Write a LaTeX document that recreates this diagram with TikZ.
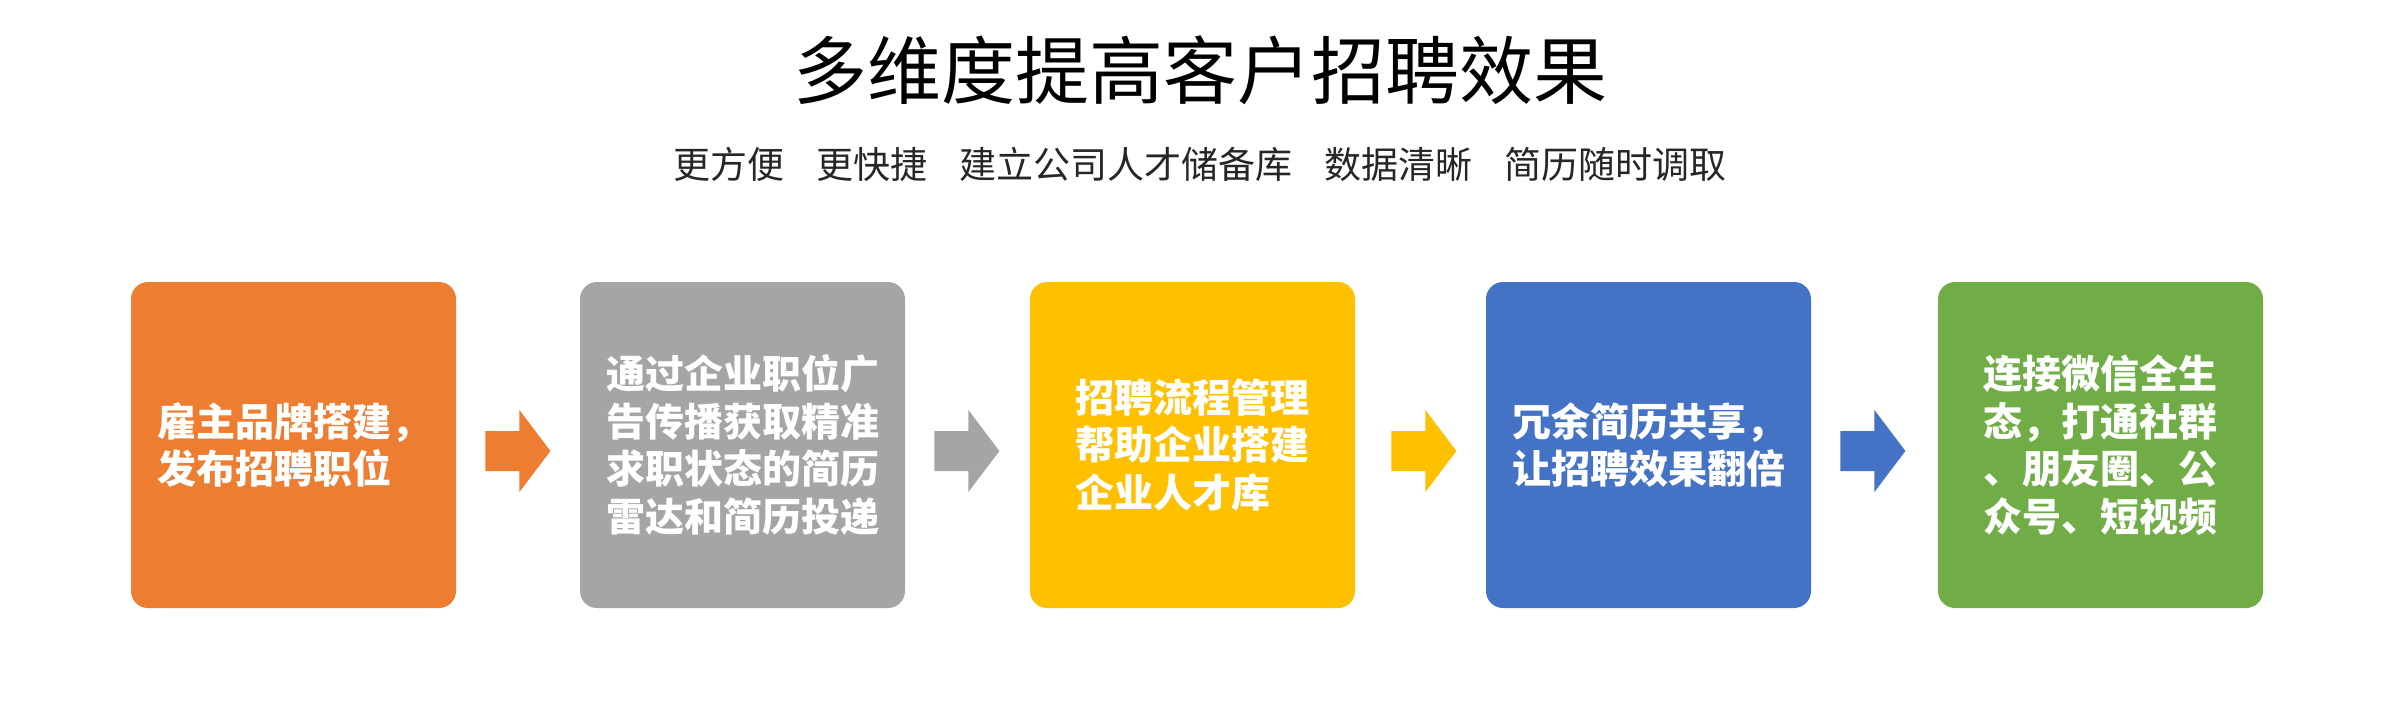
\documentclass[tikz,border=0pt]{standalone}
\usepackage{fontspec}
\newfontfamily\cjk{Noto Sans CJK SC}
\usetikzlibrary{calc}
\definecolor{corange}{HTML}{ED7D31}
\definecolor{cgrey}{HTML}{A5A5A5}
\definecolor{cyellow}{HTML}{FFC000}
\definecolor{cblue}{HTML}{4472C4}
\definecolor{cgreen}{HTML}{70AD47}
\begin{document}
\begin{tikzpicture}[x=0.5pt,y=-0.5pt,
  box/.style={rounded corners=8.5pt, minimum width=162.5pt, minimum height=163pt,
    inner sep=0pt, text=white, align=left,
    font=\cjk\bfseries\fontsize{19.5pt}{23.85pt}\selectfont},
  title/.style={font=\cjk\fontsize{37pt}{44pt}\selectfont, text=black, inner sep=0pt},
  subtitle/.style={font=\cjk\fontsize{18.5pt}{22pt}\selectfont, text=black!85, inner sep=0pt}]
\useasboundingbox (0,0) rectangle (2400,714);
\fill[white] (0,0) rectangle (2400,714);

\node[title] (t) at (1200,70) {多维度提高客户招聘效果};
\node[subtitle] (s) at (1200,164) {更方便\hspace{16pt}更快捷\hspace{16pt}建立公司人才储备库\hspace{16pt}数据清晰\hspace{16pt}简历随时调取};

\node[box, fill=corange] (b1) at (293.5,445) {雇主品牌搭建，\\发布招聘职位};
\node[box, fill=cgrey]   (b2) at (742.5,445) {通过企业职位广\\告传播获取精准\\求职状态的简历\\雷达和简历投递};
\node[box, fill=cyellow] (b3) at (1192.5,445) {招聘流程管理\\帮助企业搭建\\企业人才库};
\node[box, fill=cblue]   (b4) at (1648.5,445) {冗余简历共享，\\让招聘效果翻倍};
\node[box, fill=cgreen]  (b5) at (2100.5,445) {连接微信全生\\态，打通社群\\、朋友圈、公\\众号、短视频};

\coordinate (a1) at ($(b1.east)+(29,6)$);
\coordinate (a2) at ($(b2.east)+(29,6)$);
\coordinate (a3) at ($(b3.east)+(36,6)$);
\coordinate (a4) at ($(b4.east)+(29,6)$);
\foreach \a/\c in {a1/corange, a2/cgrey, a3/cyellow, a4/cblue}{
  \fill[\c] (\a) ++(0,-20) -- ++(34,0) -- ++(0,-21) -- ++(31,41) -- ++(-31,41) -- ++(0,-21) -- ++(-34,0) -- cycle;
}
\end{tikzpicture}
\end{document}
